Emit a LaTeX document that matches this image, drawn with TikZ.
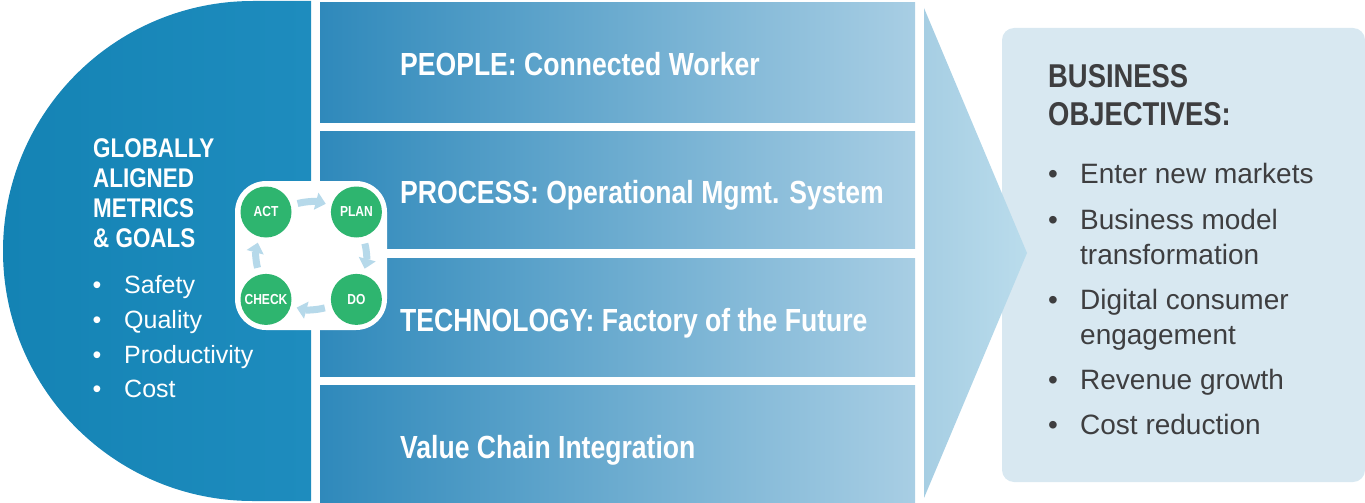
\documentclass[tikz,border=0pt]{standalone}
\usepackage{fontspec}
\setmainfont{Liberation Sans}
\newfontfamily\condfont{Liberation Sans}[FakeStretch=0.83]
\usetikzlibrary{positioning,arrows.meta}

\definecolor{metricblue}{RGB}{20,131,180}
\definecolor{metricblueR}{RGB}{30,140,190}
\definecolor{stripeL}{RGB}{47,137,187}
\definecolor{stripeR}{RGB}{168,206,228}
\definecolor{arrowL}{RGB}{166,206,227}
\definecolor{arrowR}{RGB}{186,220,236}
\definecolor{objbox}{RGB}{216,232,241}
\definecolor{pdcagreen}{RGB}{46,181,111}
\definecolor{cyclearrow}{RGB}{182,217,234}
\definecolor{objtext}{RGB}{62,62,64}

% lines stacked from the first baseline down
\newcommand\stack[1]{\begin{tabular}[t]{@{}l@{}}#1\end{tabular}}

\tikzset{
  pillar/.style={anchor=base west, inner sep=0, text=white,
    font=\condfont\bfseries\fontsize{32}{38}\selectfont},
  metrichead/.style={anchor=base west, inner sep=0, text=white,
    font=\condfont\bfseries\fontsize{27}{30}\selectfont},
  metricitem/.style={anchor=base west, inner sep=0, text=white,
    font=\fontsize{25}{30}\selectfont},
  objhead/.style={anchor=base west, inner sep=0, text=objtext,
    font=\condfont\bfseries\fontsize{33}{39}\selectfont},
  objitem/.style={anchor=base west, inner sep=0, text=objtext,
    font=\fontsize{28}{35}\selectfont},
  bul/.style={anchor=base, inner sep=0},
  pdca/.style={circle, fill=pdcagreen, minimum size=51, inner sep=0, text=white,
    font=\condfont\bfseries\fontsize{14.5}{15}\selectfont},
  cyc/.style={line width=7, cyclearrow, -{Triangle[width=17,length=10]},
    shorten <=7, shorten >=6},
}

\begin{document}
\begin{tikzpicture}[x=1pt, y=-1pt]
  \useasboundingbox (0,0) rectangle (1365,503);

  % half disk on the left
  \shade[left color=metricblue, right color=metricblueR]
    (311,1) -- (253,1) arc[start angle=270, end angle=90, radius=250]
    -- (311,501) -- cycle;

  % four pillars
  \foreach \ya/\yb in {3/122, 131/248, 258/376, 385/503}
    \shade[left color=stripeL, right color=stripeR] (320,\ya) rectangle (915,\yb);

  % objectives box, big arrow on top
  \fill[objbox, rounded corners=12] (1002,28) rectangle (1365,482);
  \shade[left color=arrowL, right color=arrowR] (924,8) -- (1027,253) -- (924,498) -- cycle;

  \node[pillar] (people) at (400,75) {PEOPLE: Connected Worker};
  \node[pillar] (process) at (400,203) {PROCESS: Operational Mgmt. System};
  \node[pillar] (tech) at (400,331) {TECHNOLOGY: Factory of the Future};
  \node[pillar] (chain) at (400,458) {Value Chain Integration};

  % metrics
  \node[metrichead] (metrics) at (93,157) {\stack{GLOBALLY\\ALIGNED\\METRICS\\\& GOALS}};
  \foreach \y/\txt/\nm in {293/Safety/safety, 328/Quality/quality,
      363/Productivity/productivity, 397/Cost/cost} {
    \node[metricitem] (\nm) at (124,\y) {\txt};
    \node[bul, text=white, font=\fontsize{25}{30}\selectfont] (\nm-b) at (97,\y) {\textbullet};
  }

  % PDCA cycle
  \fill[white, rounded corners=31] (235,181) rectangle (387,330);
  \node[pdca] (act) at (266,212) {ACT};
  \node[pdca, right=39pt of act] (plan) {PLAN};
  \node[pdca, below=36pt of plan] (do) {DO};
  \node[pdca, below=36pt of act] (check) {CHECK};
  \draw[cyc] (act) to[bend left=15] (plan);
  \draw[cyc] (plan) to[bend left=15] (do);
  \draw[cyc] (do) to[bend left=15] (check);
  \draw[cyc] (check) to[bend left=15] (act);

  % objectives
  \node[objhead] (objectives) at (1048,87) {\stack{BUSINESS\\OBJECTIVES:}};
  \foreach \y/\txt/\nm in {183/Enter new markets/markets,
      229/{Business model\\transformation}/model,
      309/{Digital consumer\\engagement}/digital,
      389/Revenue growth/revenue, 434/Cost reduction/reduction} {
    \node[objitem] (\nm) at (1080,\y) {\stack{\txt}};
    \node[bul, text=objtext, font=\fontsize{28}{35}\selectfont] (\nm-b) at (1053,\y) {\textbullet};
  }
\end{tikzpicture}
\end{document}
